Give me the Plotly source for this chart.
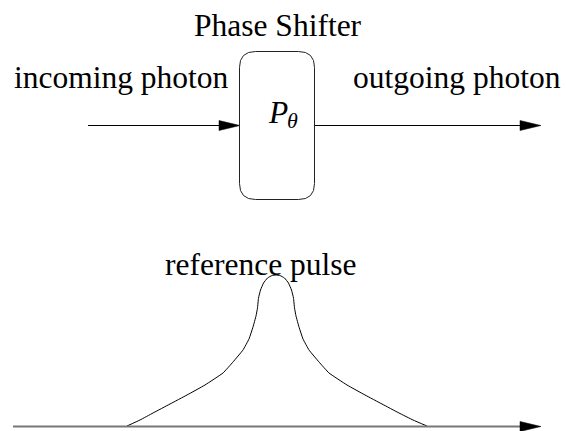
import plotly.graph_objects as go

# ---- data: reference pulse shape (pixel-space coordinates, y down) ----
pulse_x = [127, 140, 153, 170, 187, 205, 223, 233, 243, 249, 253, 256, 257.5, 258.5, 260.5, 263.5, 267.5, 272, 276,
           280, 284.5, 288.5, 291.5, 293.5, 294.5, 296, 299, 303, 309, 319, 329, 347, 365, 382, 399, 413, 427]
pulse_y = [426, 420, 413, 404, 395, 385, 373, 362, 350, 339, 327, 316, 308, 298, 290, 283, 278, 275.5, 275,
           275.5, 278, 283, 290, 298, 308, 316, 327, 339, 350, 362, 373, 385, 395, 404, 413, 420, 426]

labels = {
    "title": "Phase Shifter",
    "in": "incoming photon",
    "out": "outgoing photon",
    "op": "<i>P</i>",
    "op_sub": "<i>θ</i>",
    "ref": "reference pulse",
}

W, H = 566, 431
FONT = "Liberation Serif"
FS = 31.5

fig = go.Figure()

# pulse curve
fig.add_trace(go.Scatter(x=pulse_x, y=pulse_y, mode="lines",
                         line=dict(color="black", width=1, shape="spline", smoothing=0.3),
                         hoverinfo="skip", showlegend=False))

shapes = []
# baseline axis (grey)
shapes.append(dict(type="line", x0=13, y0=426.5, x1=522, y1=426.5,
                   line=dict(color="#777777", width=2)))
# arrows top
shapes.append(dict(type="line", x0=88, y0=125.5, x1=222, y1=125.5, line=dict(color="black", width=1)))
shapes.append(dict(type="line", x0=315, y0=125.5, x1=522, y1=125.5, line=dict(color="black", width=1)))

def head(xt, yc, L=21, h=5):
    return dict(type="path", path=f"M {xt},{yc} L {xt-L},{yc-h} L {xt-L},{yc+h} Z",
                fillcolor="black", line=dict(color="black", width=0.5))

shapes.append(head(240, 125.5))
shapes.append(head(541, 125.5))
shapes.append(head(541, 426.5))

# rounded box
x0, x1, y0, y1, r = 239.5, 314.5, 51.5, 199.5, 16
box = (f"M {x0+r},{y0} L {x1-r},{y0} Q {x1},{y0} {x1},{y0+r} L {x1},{y1-r} "
       f"Q {x1},{y1} {x1-r},{y1} L {x0+r},{y1} Q {x0},{y1} {x0},{y1-r} "
       f"L {x0},{y0+r} Q {x0},{y0} {x0+r},{y0} Z")
shapes.append(dict(type="path", path=box, line=dict(color="#222222", width=1), fillcolor="rgba(0,0,0,0)"))

def ann(text, x, baseline, xanchor="center", size=FS):
    # place by baseline: middle of text box sits ~0.337*size above the baseline
    return dict(text=text, x=x, y=baseline - 0.337 * size, xref="x", yref="y", showarrow=False,
                xanchor=xanchor, yanchor="middle",
                font=dict(family=FONT, size=size, color="black"))

annotations = [
    ann(labels["title"], 278, 36),
    ann(labels["in"], 12, 88, "left"),
    ann(labels["out"], 351, 88, "left"),
    ann(labels["ref"], 260.5, 275.5),
    ann(labels["op"], 265.5, 123.5, "left"),
    ann(labels["op_sub"], 284.5, 127.5, "left", size=22),
]

fig.update_layout(
    width=W, height=H,
    margin=dict(l=0, r=0, t=0, b=0),
    paper_bgcolor="white", plot_bgcolor="white",
    xaxis=dict(range=[0, W], visible=False, fixedrange=True),
    yaxis=dict(range=[H, 0], visible=False, fixedrange=True),
    shapes=shapes, annotations=annotations,
    showlegend=False,
)

fig.write_html("out.html", config={"displayModeBar": False},
               post_script="document.body.style.margin='0';document.body.style.overflow='hidden';")
